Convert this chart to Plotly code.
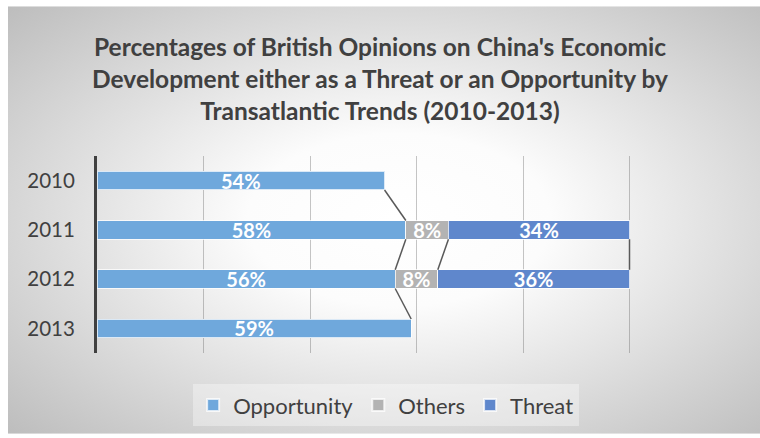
import base64
import plotly.graph_objects as go

# Survey data (percent of respondents)
years = ["2010", "2011", "2012", "2013"]
opportunity = [54, 58, 56, 59]
others = [None, 8, 8, None]
threat = [None, 34, 36, None]

series_names = ["Opportunity", "Others", "Threat"]
series_colors = ["#6fa8dc", "#b3b3b3", "#5f87cc"]

ypos = list(range(len(years)))
bar_w = 0.38
text_color = "#404040"

fig = go.Figure()

for name, vals, color in zip(series_names, [opportunity, others, threat], series_colors):
    fig.add_trace(go.Bar(
        name=name,
        y=ypos,
        x=vals,
        orientation="h",
        width=bar_w,
        marker=dict(color=color, line=dict(color="rgba(255,255,255,0.75)", width=1)),
        text=[f"{v}%" if v is not None else "" for v in vals],
        textposition="inside",
        insidetextanchor="middle",
        constraintext="none",
        textfont=dict(family="Lato", size=20, color="white", weight="bold"),
        hoverinfo="skip",
    ))

# Series lines joining the right ends of consecutive bars of each series
cum = []
running = [0] * len(years)
for vals in [opportunity, others, threat]:
    ends = []
    for i, v in enumerate(vals):
        if v is None:
            ends.append(None)
        else:
            running[i] += v
            ends.append(running[i])
    cum.append(ends)

for ends in cum:
    for i in range(len(years) - 1):
        a, b = ends[i], ends[i + 1]
        if a is None or b is None:
            continue
        fig.add_trace(go.Scatter(
            x=[a, b],
            y=[ypos[i] + bar_w / 2, ypos[i + 1] - bar_w / 2],
            mode="lines",
            line=dict(color="#595959", width=1.5),
            showlegend=False,
            hoverinfo="skip",
        ))

# Soft radial gray gradient behind the whole chart
svg = (
    '<svg xmlns="http://www.w3.org/2000/svg" width="752" height="434" preserveAspectRatio="none">'
    '<defs><radialGradient id="g" cx="52%" cy="50%" r="72%">'
    '<stop offset="0" stop-color="#ffffff"/>'
    '<stop offset="0.28" stop-color="#fcfcfc"/>'
    '<stop offset="1" stop-color="#bdbdbd"/>'
    '</radialGradient></defs>'
    '<rect width="752" height="434" fill="url(#g)"/></svg>'
)
bg_src = "data:image/svg+xml;base64," + base64.b64encode(svg.encode()).decode()

L, R, T, B = 97, 24, 156, 82
W, H = 760, 438
pw, ph = W - L - R, H - T - B

fig.add_layout_image(
    source=bg_src,
    xref="paper", yref="paper",
    x=(8 - L) / pw, y=(H - B - 4) / ph,
    sizex=(W - 8) / pw, sizey=(H - 4) / ph,
    xanchor="left", yanchor="top",
    sizing="stretch",
    layer="below",
)

fig.update_layout(
    width=W, height=H,
    margin=dict(l=L, r=R, t=T, b=B),
    paper_bgcolor="white",
    plot_bgcolor="rgba(0,0,0,0)",
    barmode="stack",
    bargap=0.62,
    title=dict(
        text="Percentages of British Opinions on China's Economic<br>"
             "Development either as a Threat or an Opportunity by<br>"
             "Transatlantic Trends (2010-2013)",
        x=0.5, xref="container", xanchor="center",
        y=1 - 56 / H, yref="container", yanchor="top",
        font=dict(family="Lato", size=24.5, color=text_color, weight="bold"),
    ),
    xaxis=dict(
        range=[0, 120], dtick=20, tick0=0,
        showticklabels=False,
        showgrid=True, gridcolor="rgba(90,90,90,0.35)", gridwidth=1,
        zeroline=False, showline=False, fixedrange=True,
    ),
    yaxis=dict(
        range=[len(years) - 0.5, -0.5],
        tickvals=ypos, ticktext=years,
        tickfont=dict(family="Lato", size=20.5, color=text_color),
        ticks="outside", ticklen=15, tickcolor="rgba(0,0,0,0)",
        showgrid=False, zeroline=False,
        showline=True, linecolor="#404040", linewidth=3,
        fixedrange=True,
    ),
    legend=dict(
        orientation="h",
        x=0.4525, xanchor="center",
        y=(H - B - 409) / ph, yanchor="middle",
        font=dict(family="Lato", size=22, color=text_color),
        bgcolor="rgba(255,255,255,0.35)",
        itemsizing="constant",
        itemwidth=30,
        traceorder="normal",
    ),
    showlegend=True,
)

fig.write_html("out.html")
